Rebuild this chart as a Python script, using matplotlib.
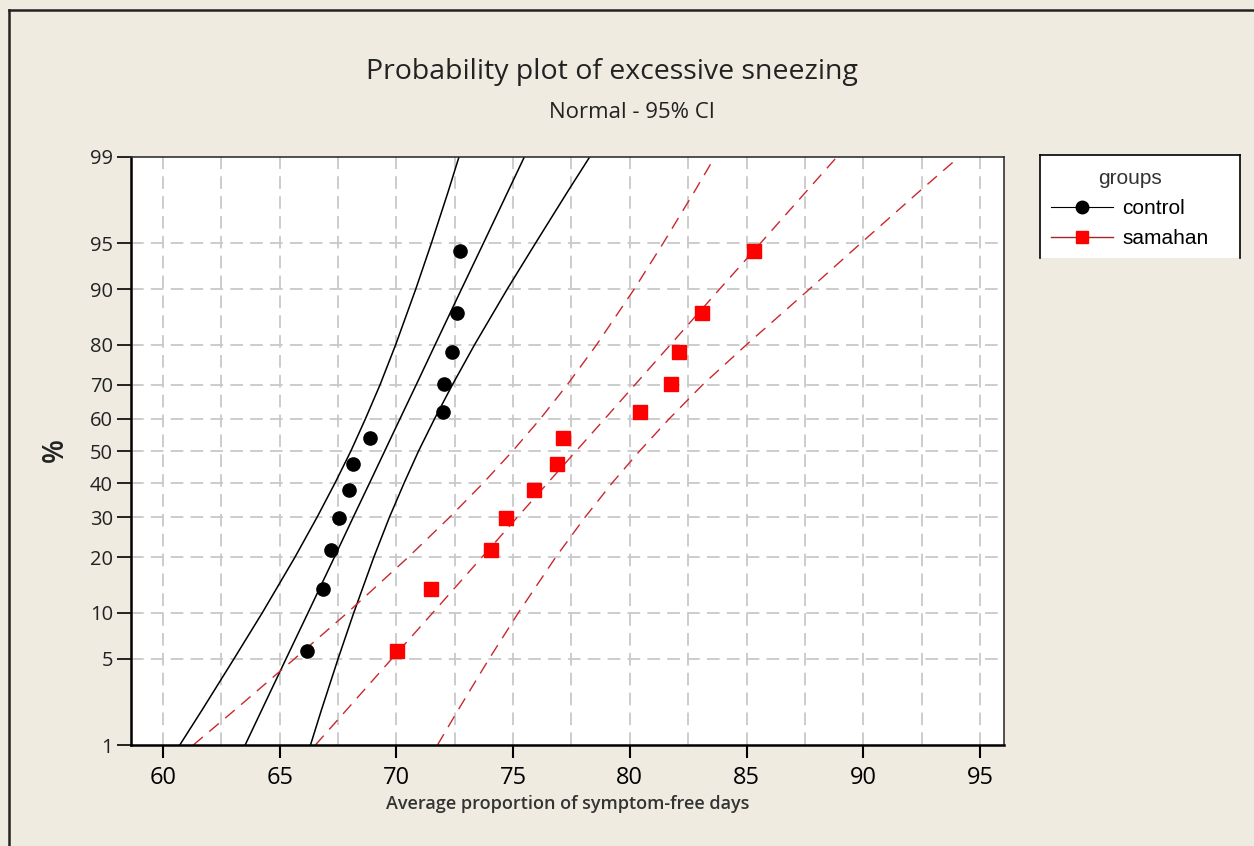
import numpy as np
import matplotlib
matplotlib.use("Agg")
import matplotlib.pyplot as plt
from matplotlib.lines import Line2D
from matplotlib.patches import Rectangle
from statistics import NormalDist

# plotting positions (percent) shared by both groups
pct = [5.65, 13.71, 21.77, 29.84, 37.90, 45.97, 54.03, 62.10, 70.16, 78.23, 86.29, 94.35]

control = [66.19, 66.84, 67.19, 67.52, 67.98, 68.14, 68.88, 71.99, 72.06, 72.38, 72.59, 72.73]
samahan = [70.02, 71.49, 74.05, 74.70, 75.91, 76.87, 77.14, 80.44, 81.76, 82.12, 83.08, 85.32]

# fitted line and 95% CI curves, read at these percent levels
levels = [1, 2, 5, 10, 20, 30, 40, 50, 60, 70, 80, 90, 95, 98, 99]

ctrl_fit = [63.52, 64.22, 65.27, 66.21, 67.34, 68.15, 68.85, 69.50, 70.15, 70.85, 71.66, 72.79, 73.73, 74.78, 75.48]
ctrl_lo = [60.72, 61.66, 63.04, 64.25, 65.65, 66.60, 67.37, 68.05, 68.67, 69.30, 69.97, 70.83, 71.50, 72.22, 72.68]
ctrl_hi = [66.32, 66.78, 67.50, 68.17, 69.03, 69.70, 70.33, 70.95, 71.63, 72.40, 73.35, 74.75, 75.96, 77.34, 78.28]

sam_fit = [66.53, 67.84, 69.80, 71.55, 73.66, 75.18, 76.48, 77.70, 78.92, 80.22, 81.74, 83.85, 85.60, 87.56, 88.87]
sam_lo = [61.30, 63.05, 65.63, 67.89, 70.50, 72.28, 73.72, 74.98, 76.16, 77.32, 78.58, 80.19, 81.43, 82.77, 83.64]
sam_hi = [71.76, 72.63, 73.97, 75.22, 76.82, 78.08, 79.24, 80.42, 81.68, 83.12, 85.00, 87.70, 89.90, 92.40, 94.10]

yticks = [1, 5, 10, 20, 30, 40, 50, 60, 70, 80, 90, 95, 99]
xticks = [60, 65, 70, 75, 80, 85, 90, 95]
xminor = [62.5, 67.5, 72.5, 77.5, 82.5, 87.5, 92.5]

nd = NormalDist()
_ppf = np.vectorize(lambda v: nd.inv_cdf(v / 100.0), otypes=[float])
_cdf = np.vectorize(lambda v: nd.cdf(v) * 100.0, otypes=[float])


def fwd(p):
    p = np.clip(np.asarray(p, dtype=float), 1e-6, 100 - 1e-6)
    return _ppf(p)


def inv(z):
    return _cdf(np.asarray(z, dtype=float))


plt.rcParams['font.family'] = ['Open Sans', 'DejaVu Sans']
bg = '#EFEBE1'
red = '#C8282D'

fig = plt.figure(figsize=(12.54, 8.46), dpi=100, facecolor=bg)
ax = fig.add_axes([131 / 1254, 1 - 745 / 846, (1004 - 131) / 1254, (745 - 157) / 846])
ax.set_facecolor('white')
ax.set_yscale('function', functions=(fwd, inv))

# grid
for g in xticks + xminor:
    ax.axvline(g, color='#C8C8C8', lw=1.3, dashes=(7, 4), zorder=0)
for g in yticks[1:-1]:
    ax.axhline(g, color='#C8C8C8', lw=1.3, dashes=(7, 4), zorder=0)

# control
ax.plot(ctrl_fit, levels, color='black', lw=1.1, zorder=2)
ax.plot(ctrl_lo, levels, color='black', lw=1.1, zorder=2)
ax.plot(ctrl_hi, levels, color='black', lw=1.1, zorder=2)
ax.plot(control, pct, 'o', color='black', ms=9.5, zorder=3)

# samahan
for c in (sam_fit, sam_lo, sam_hi):
    ax.plot(c, levels, color=red, lw=1.0, dashes=(9, 6), zorder=2)
ax.plot(samahan, pct, 's', color='#FF0000', ms=9.5, zorder=3)

ax.set_xlim(58.63, 96.03)
ax.set_ylim(1, 99)
ax.set_xticks(xticks)
ax.set_xticks(xminor, minor=True)
ax.set_yticks(yticks)
ax.set_yticks([], minor=True)
ax.set_yticklabels([str(t) for t in yticks])
ax.tick_params(axis='x', which='major', direction='out', length=9, width=1.5, labelsize=17, pad=6)
ax.tick_params(axis='x', which='minor', length=0)
ax.tick_params(axis='y', which='major', direction='out', length=10, width=1.2, labelsize=14.5, pad=3,
               labelcolor='#222222')
for s in ('left', 'bottom'):
    ax.spines[s].set_linewidth(1.8)
for s in ('top', 'right'):
    ax.spines[s].set_linewidth(1.2)
    ax.spines[s].set_color('#333333')

ax.set_xlabel('Average proportion of symptom-free days', fontsize=13, fontweight='semibold',
              color='#333333', labelpad=4)
fig.text(55 / 1254, 1 - 450 / 846, '%', rotation=90, fontsize=20, fontweight='semibold',
         ha='center', va='center', color='#222222')

fig.text(612 / 1254, 1 - 72 / 846, 'Probability plot of excessive sneezing', fontsize=20.5,
         ha='center', va='center', color='#222222')
fig.text(632 / 1254, 1 - 112 / 846, 'Normal - 95% CI', fontsize=16,
         ha='center', va='center', color='#222222')

# figure frame (top and left)
fig.add_artist(Line2D([9 / 1254, 9 / 1254], [0, 1 - 10 / 846], transform=fig.transFigure,
                      color='#222222', lw=1.8))
fig.add_artist(Line2D([9 / 1254, 1], [1 - 10 / 846, 1 - 10 / 846], transform=fig.transFigure,
                      color='#222222', lw=1.8))

# legend box (bottom edge cut off)
lx0, lx1, ly0, ly1 = 1040 / 1254, 1240 / 1254, 1 - 258 / 846, 1 - 155 / 846
fig.add_artist(Rectangle((lx0, ly0), lx1 - lx0, ly1 - ly0, transform=fig.transFigure,
                         facecolor='white', edgecolor='none', zorder=0))
for xs, ys in (([lx0, lx0], [ly0, ly1]), ([lx0, lx1], [ly1, ly1]), ([lx1, lx1], [ly0, ly1])):
    fig.add_artist(Line2D(xs, ys, transform=fig.transFigure, color='black', lw=1.2))

handles = [Line2D([], [], color='black', lw=0.8, marker='o', ms=9),
           Line2D([], [], color='#A02828', lw=1.0, marker='s', ms=9, mfc='#FF0000', mec='#FF0000')]
leg = fig.legend(handles, ['control', 'samahan'], title='groups', loc='upper left',
                 bbox_to_anchor=(1036 / 1254, 1 - 154 / 846), frameon=False,
                 prop={'family': 'Liberation Sans', 'size': 15}, handlelength=3.0,
                 handletextpad=0.45, labelspacing=0.55, borderpad=0.2)
leg.set_zorder(6)
leg.get_title().set_fontfamily('Liberation Sans')
leg.get_title().set_fontsize(15)
leg.get_title().set_color('#333333')

fig.savefig('out.png', dpi=100, facecolor=bg)
